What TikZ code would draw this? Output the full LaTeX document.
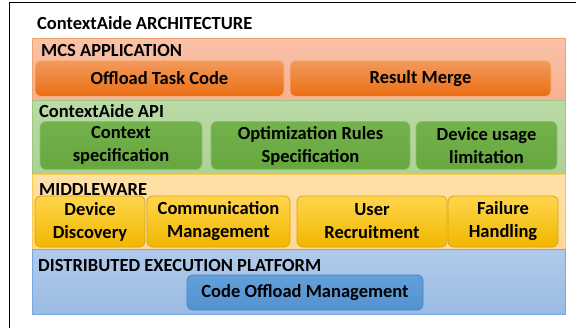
\documentclass[tikz,border=0pt]{standalone}
\usepackage{fontspec}
\setmainfont{Carlito}
\definecolor{olayT}{HTML}{F9C2A8}
\definecolor{olayB}{HTML}{F6B191}
\definecolor{olayD}{HTML}{F2A06C}
\definecolor{oboxT}{HTML}{F39A5C}
\definecolor{oboxB}{HTML}{EA6E14}
\definecolor{oboxD}{HTML}{F5B285}
\definecolor{glayT}{HTML}{BADAA6}
\definecolor{glayB}{HTML}{ADD198}
\definecolor{glayD}{HTML}{9CC883}
\definecolor{gboxT}{HTML}{74B24C}
\definecolor{gboxB}{HTML}{66A73E}
\definecolor{gboxD}{HTML}{8DC26A}
\definecolor{ylayT}{HTML}{FFE0A8}
\definecolor{ylayB}{HTML}{FFD894}
\definecolor{ylayD}{HTML}{FFC94A}
\definecolor{yboxT}{HTML}{FFD54C}
\definecolor{yboxB}{HTML}{F1B700}
\definecolor{yboxD}{HTML}{D5A41A}
\definecolor{blayT}{HTML}{B1CAEA}
\definecolor{blayB}{HTML}{9ABBE4}
\definecolor{blayD}{HTML}{78A8E0}
\definecolor{bboxT}{HTML}{62A0DA}
\definecolor{bboxB}{HTML}{5592D0}
\definecolor{bboxD}{HTML}{4A82C4}
\begin{document}
\begin{tikzpicture}[x=1pt,y=-1pt,
  every node/.style={font=\fontsize{18.5}{23}\selectfont\bfseries, text=black, inner sep=0pt},
  layer/.style={rectangle, line width=1pt},
  tbox/.style={rectangle, rounded corners=6pt, line width=0.8pt, align=center},
  olay/.style={layer, draw=olayD, top color=olayT, bottom color=olayB},
  glay/.style={layer, draw=glayD, top color=glayT, bottom color=glayB},
  ylay/.style={layer, draw=ylayD, top color=ylayT, bottom color=ylayB},
  blay/.style={layer, draw=blayD, top color=blayT, bottom color=blayB},
  obox/.style={tbox, draw=oboxD, top color=oboxT, bottom color=oboxB},
  gbox/.style={tbox, draw=gboxD, top color=gboxT, bottom color=gboxB},
  ybox/.style={tbox, draw=yboxD, top color=yboxT, bottom color=yboxB},
  bbox/.style={tbox, draw=bboxD, top color=bboxT, bottom color=bboxB},
  title/.style={anchor=base west},
  frameline/.style={line width=1.8pt, draw=black}
]
\useasboundingbox (0,0) rectangle (576,327);
\coordinate (ftl) at (9.5,2.5);
\coordinate (ftr) at (580,2.5);
\coordinate (fbl) at (9.5,330);
\draw[frameline] (fbl) -- (ftl) -- (ftr);

\node[title] (ttl) at (37,29.5) {ContextAide ARCHITECTURE};

% layers
\node[olay, minimum width=533, minimum height=62] (L1) at (298.5,69) {};
\node[glay, minimum width=533, minimum height=74] (L2) at (298.5,137) {};
\node[ylay, minimum width=533, minimum height=75] (L3) at (298.5,211.5) {};
\node[blay, minimum width=533, minimum height=65] (L4) at (298.5,281.5) {};

\node[title] (t1) at (41,56.5) {MCS APPLICATION};
\node[title] (t2) at (39,117) {ContextAide API};
\node[title] (t3) at (39,195) {MIDDLEWARE};
\node[title] (t4) at (38,271) {DISTRIBUTED EXECUTION PLATFORM};

% boxes
\node[obox, minimum width=249, minimum height=36] (b11) at (159.5,78.5) {Offload Task Code};
\node[obox, minimum width=261, minimum height=36] (b12) at (420.5,78.5) {Result Merge};

\node[gbox, minimum width=162, minimum height=48] (b21) at (121,145.5) {Context\\specification};
\node[gbox, minimum width=199, minimum height=48] (b22) at (310.5,145.5) {Optimization Rules\\Specification};
\node[gbox, minimum width=141, minimum height=48] (b23) at (486.5,145.5) {Device usage\\limitation};

\node[ybox, minimum width=110, minimum height=51] (b31) at (90,221.5) {Device\\Discovery};
\node[ybox, minimum width=143, minimum height=51] (b32) at (218.5,221.5) {Communication\\Management};
\node[ybox, minimum width=150, minimum height=51] (b33) at (372,221.5) {User\\Recruitment};
\node[ybox, minimum width=110, minimum height=51] (b34) at (503,221.5) {Failure\\Handling};

\node[bbox, minimum width=236, minimum height=35] (b41) at (305,292.5) {Code Offload Management};
\end{tikzpicture}
\end{document}
